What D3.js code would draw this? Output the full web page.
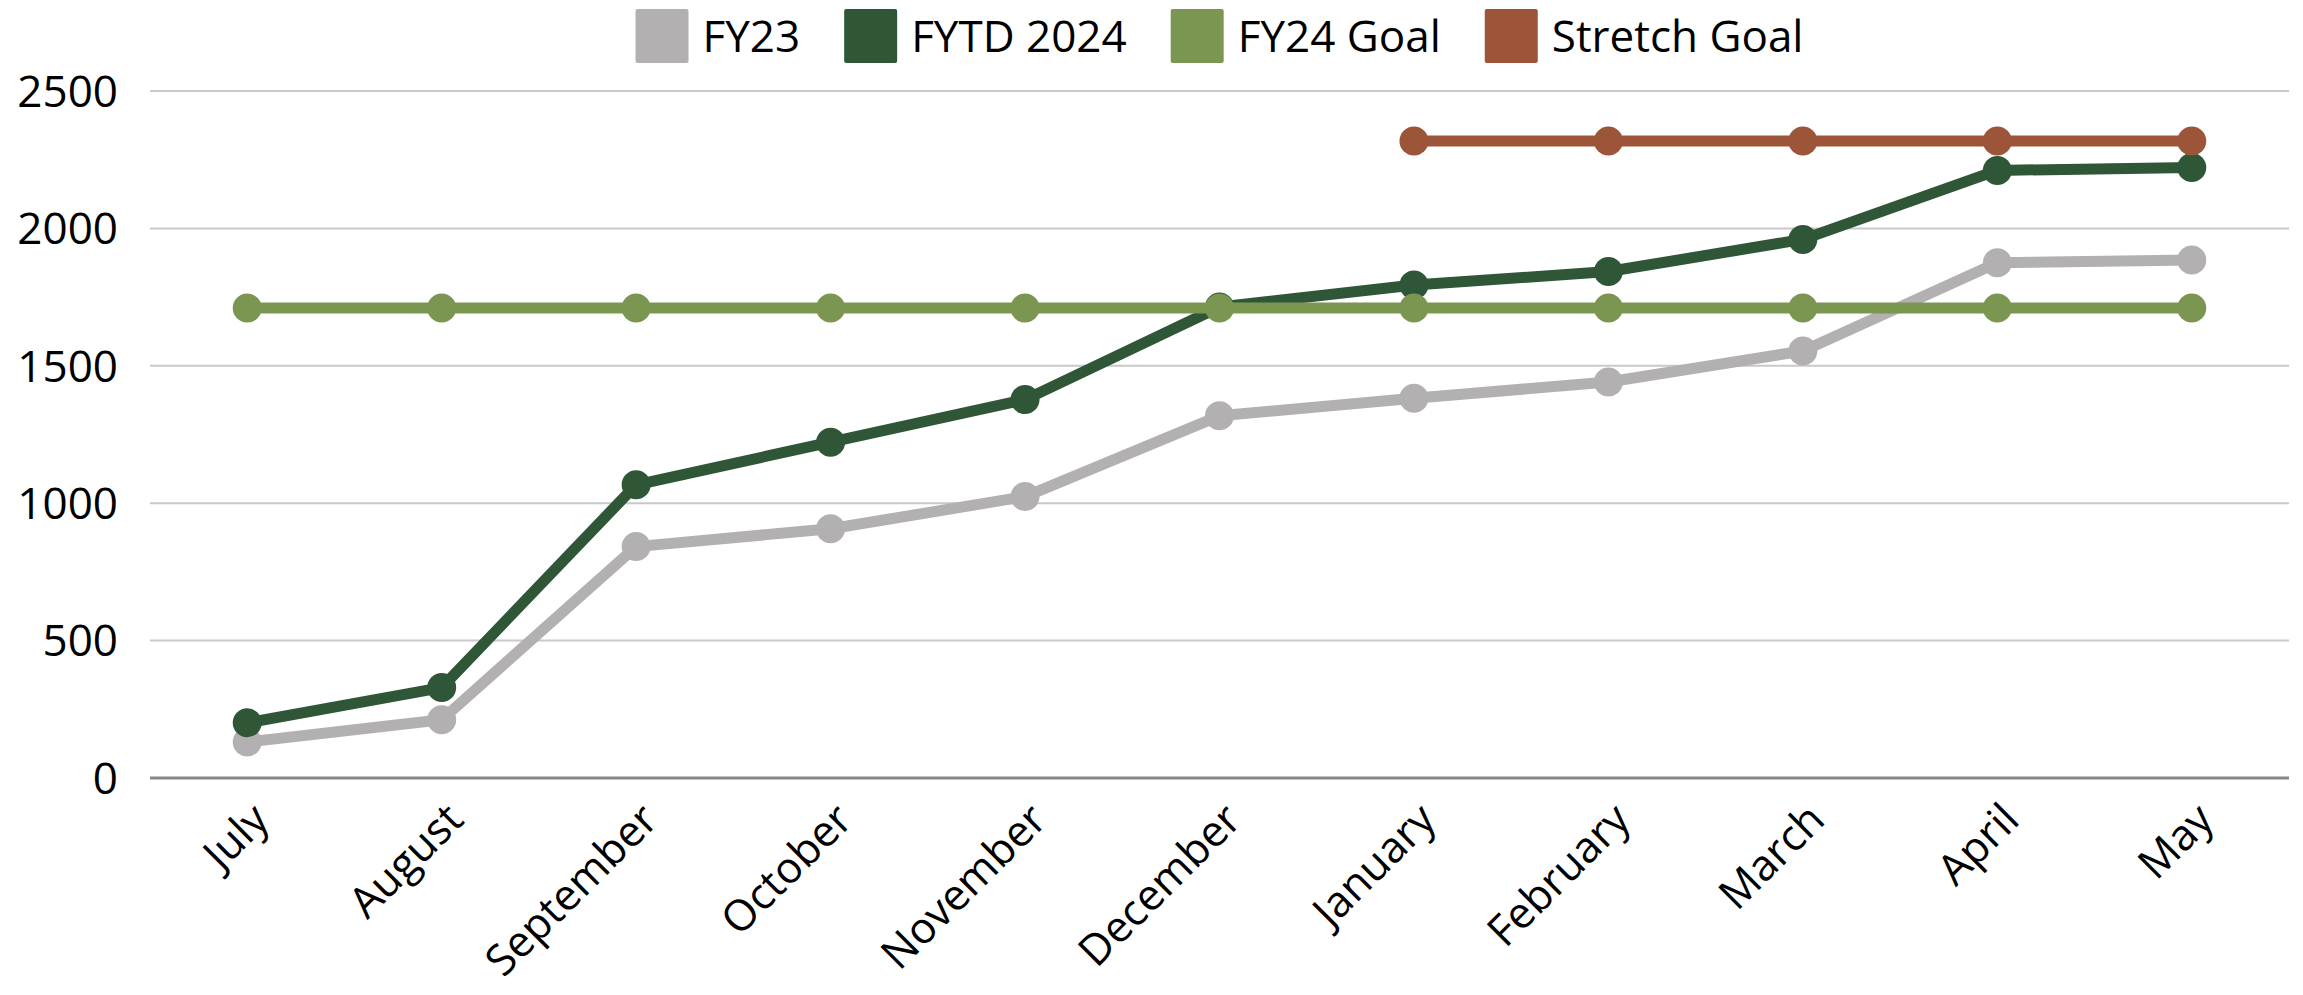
<!DOCTYPE html>
<html>
<head>
<meta charset="utf-8">
<script src="https://cdn.jsdelivr.net/npm/d3@7"></script>
<style>
  body { margin: 0; background: #fff; }
  svg { display: block; font-family: "Open Sans", sans-serif; }
</style>
</head>
<body>
<div class="chart"></div>
<script>
var months = ["July", "August", "September", "October", "November", "December",
              "January", "February", "March", "April", "May"];
var fy23 = [131, 212, 842, 907, 1024, 1318, 1382, 1441, 1554, 1875, 1885];
var fytd2024 = [201, 329, 1067, 1222, 1377, 1714, 1794, 1843, 1960, 2211, 2222];
var fy24Goal = [1710, 1710, 1710, 1710, 1710, 1710, 1710, 1710, 1710, 1710, 1710];
var stretchGoal = [null, null, null, null, null, null, 2318, 2318, 2318, 2318, 2318];
var yTicks = [0, 500, 1000, 1500, 2000, 2500];

var seriesNames = ["FY23", "FYTD 2024", "FY24 Goal", "Stretch Goal"];
var seriesColors = ["#b3b0b1", "#2f5637", "#7b9650", "#9c5538"];
var seriesValues = [fy23, fytd2024, fy24Goal, stretchGoal];

var width = 2303,
    height = 995;

var svg = d3.select(".chart").append("svg")
    .attr("width", width)
    .attr("height", height);

var x = d3.scalePoint()
    .domain(months)
    .range([150, 2289])
    .padding(0.5);

var y = d3.scaleLinear()
    .domain([0, 2500])
    .range([778, 91]);

// gridlines
svg.append("g")
  .selectAll("line")
    .data(yTicks)
  .enter().append("line")
    .attr("x1", 150)
    .attr("x2", 2289)
    .attr("y1", function(d) { return y(d); })
    .attr("y2", function(d) { return y(d); })
    .attr("stroke", function(d) { return d === 0 ? "#878787" : "#c9c9c9"; })
    .attr("stroke-width", function(d) { return d === 0 ? 3 : 2; });

// y labels
svg.append("g")
  .selectAll("text")
    .data(yTicks)
  .enter().append("text")
    .attr("x", 118)
    .attr("y", function(d) { return y(d); })
    .attr("dy", "0.36em")
    .attr("text-anchor", "end")
    .attr("font-size", 44)
    .attr("fill", "#000")
    .text(function(d) { return d; });

// x labels, rotated
svg.append("g")
  .selectAll("text")
    .data(months)
  .enter().append("text")
    .attr("transform", function(d) { return "translate(" + (x(d) + 24) + ",822) rotate(-45)"; })
    .attr("text-anchor", "end")
    .attr("font-size", 43)
    .attr("fill", "#000")
    .text(function(d) { return d; });

var line = d3.line()
    .defined(function(d) { return d != null; })
    .x(function(d, i) { return x(months[i]); })
    .y(function(d) { return y(d); });

seriesValues.forEach(function(vals, s) {
  var g = svg.append("g");
  g.append("path")
      .attr("d", line(vals))
      .attr("fill", "none")
      .attr("stroke", seriesColors[s])
      .attr("stroke-width", 11)
      .attr("stroke-linejoin", "round");
  g.selectAll("circle")
      .data(vals.map(function(v, i) { return { v: v, m: months[i] }; })
                .filter(function(d) { return d.v != null; }))
    .enter().append("circle")
      .attr("cx", function(d) { return x(d.m); })
      .attr("cy", function(d) { return y(d.v); })
      .attr("r", 14.5)
      .attr("fill", seriesColors[s]);
});

// legend
var legend = svg.append("g");
var items = legend.selectAll("g")
    .data(seriesNames)
  .enter().append("g");

items.append("rect")
    .attr("width", 53)
    .attr("height", 54)
    .attr("y", 9)
    .attr("rx", 2)
    .attr("fill", function(d, i) { return seriesColors[i]; });

items.append("text")
    .attr("x", 67)
    .attr("y", 36)
    .attr("dy", "0.36em")
    .attr("font-size", 44)
    .attr("fill", "#000")
    .text(function(d) { return d; });

var offset = 0, positions = [];
items.each(function() {
  positions.push(offset);
  offset += 67 + this.querySelector("text").getComputedTextLength() + 44;
});
var total = offset - 44;
var start = (150 + 2289) / 2 - total / 2;
items.attr("transform", function(d, i) { return "translate(" + (start + positions[i]) + ",0)"; });
</script>
</body>
</html>
